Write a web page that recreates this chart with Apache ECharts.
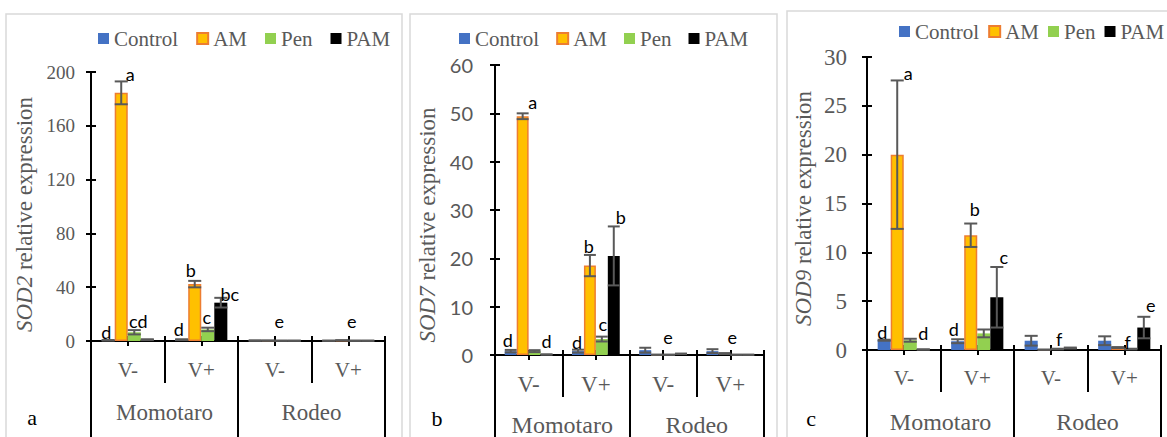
<!DOCTYPE html>
<html>
<head>
<meta charset="utf-8">
<script src="https://cdn.jsdelivr.net/npm/echarts@6/dist/echarts.min.js"></script>
<style>
  html, body { margin: 0; padding: 0; background: #fff; }
  #chart { width: 1167px; height: 437px; }
</style>
</head>
<body>
<div id="chart"></div>
<script>
// ---- data ----
const subgroups = ['V-', 'V+', 'V-', 'V+'];
const cultivars = ['Momotaro', 'Rodeo'];
const treatments = ['Control', 'AM', 'Pen', 'PAM'];

// SOD2 (panel a)
const sod2Ticks = [0, 40, 80, 120, 160, 200];
const sod2Control = [0.5, 1.0, 0.3, 0.2];
const sod2ControlErr = [0.2, 0.3, 0.2, 0.1];
const sod2AM = [184.5, 42.3, 0.3, 0.5];
const sod2AMErr = [8.5, 2.4, 0.1, 0.1];
const sod2Pen = [6.5, 8.6, 0.2, 0.2];
const sod2PenErr = [1.6, 1.3, 0.1, 0.1];
const sod2PAM = [1.0, 28.5, 0.2, 0.2];
const sod2PAMErr = [0.3, 3.6, 0.1, 0.1];
const sod2Letters = [['d', 'd', '', ''], ['a', 'b', '', ''], ['cd', 'c', 'e', 'e'], ['', 'bc', '', '']];

// SOD7 (panel b)
const sod7Ticks = [0, 10, 20, 30, 40, 50, 60];
const sod7Control = [0.8, 0.8, 1.0, 0.8];
const sod7ControlErr = [0.25, 0.3, 0.5, 0.4];
const sod7AM = [49.4, 18.5, 0.05, 0.3];
const sod7AMErr = [0.6, 2.2, 0.02, 0.1];
const sod7Pen = [0.8, 3.3, 0.05, 0.05];
const sod7PenErr = [0.2, 0.5, 0.02, 0.02];
const sod7PAM = [0.1, 20.5, 0.25, 0.05];
const sod7PAMErr = [0.02, 6.1, 0.05, 0.02];
const sod7Letters = [['d', 'd', '', ''], ['a', 'b', '', ''], ['', 'c', 'e', 'e'], ['d', 'b', '', '']];

// SOD9 (panel c)
const sod9Ticks = [0, 5, 10, 15, 20, 25, 30];
const sod9Control = [1.0, 0.9, 0.95, 0.95];
const sod9ControlErr = [0.05, 0.2, 0.5, 0.45];
const sod9AM = [20.0, 11.75, 0.03, 0.25];
const sod9AMErr = [7.6, 1.2, 0.01, 0.05];
const sod9Pen = [1.0, 1.7, 0.1, 0.1];
const sod9PenErr = [0.15, 0.4, 0.03, 0.03];
const sod9PAM = [0.05, 5.4, 0.2, 2.3];
const sod9PAMErr = [0.02, 3.1, 0.05, 1.1];
const sod9Letters = [['d', 'd', '', ''], ['a', 'b', '', ''], ['', '', 'f', 'f'], ['d', 'c', '', 'e']];

// ---- styling ----
const SERIF = "'Liberation Serif', serif";
const SANS = "Lato, 'Liberation Sans', sans-serif";
const GREY = '#595959';
const CAT_GAP = 0.29;
const colors = ['#4472C4', '#FFC000', '#92D050', '#000000'];

const panels = [
  {
    gene: 'SOD2', tag: 'a', ticks: sod2Ticks,
    values: [sod2Control, sod2AM, sod2Pen, sod2PAM],
    errors: [sod2ControlErr, sod2AMErr, sod2PenErr, sod2PAMErr],
    letters: sod2Letters,
    grid: { left: 91, top: 72, width: 294, height: 269 },
    yFont: SERIF, ySize: 19, yMargin: 16,
    subSize: 21, subMargin: 18, groupSize: 23, groupMargin: 60,
    nameGap: 55, nameShift: 16,
    legend: { left: 93, top: 23, gap: 18 },
    tagPos: [32, 417],
    frame: { x: 6, y: 14, w: 396, h: 440 },
    nudge: { '0-0': [-2, 2], '1-0': [9, 3], '2-0': [4, 1], '0-1': [-3, 0], '1-1': [-4, -1],
             '2-1': [-1, -1], '3-1': [9, 6], '2-2': [-2, -10], '2-3': [-3, -10] }
  },
  {
    gene: 'SOD7', tag: 'b', ticks: sod7Ticks,
    values: [sod7Control, sod7AM, sod7Pen, sod7PAM],
    errors: [sod7ControlErr, sod7AMErr, sod7PenErr, sod7PAMErr],
    letters: sod7Letters,
    grid: { left: 495, top: 65, width: 269, height: 291 },
    yFont: SANS, ySize: 20, yMargin: 22,
    subSize: 23, subMargin: 18, groupSize: 24, groupMargin: 58,
    nameGap: 56, nameShift: 30,
    legend: { left: 454, top: 23, gap: 17 },
    tagPos: [437, 418],
    frame: { x: 410, y: 14, w: 367, h: 440 },
    nudge: { '0-0': [-3, 0], '1-0': [10, -1], '3-0': [0, -3], '0-1': [-1, 2], '1-1': [-1, 1],
             '2-1': [1, -3], '3-1': [7, 1], '2-2': [-1, -8], '2-3': [-4, -8] }
  },
  {
    gene: 'SOD9', tag: 'c', ticks: sod9Ticks,
    values: [sod9Control, sod9AM, sod9Pen, sod9PAM],
    errors: [sod9ControlErr, sod9AMErr, sod9PenErr, sod9PAMErr],
    letters: sod9Letters,
    grid: { left: 867, top: 57, width: 294, height: 293 },
    yFont: SERIF, ySize: 23, yMargin: 20,
    subSize: 21, subMargin: 17, groupSize: 24, groupMargin: 60,
    nameGap: 52, nameShift: 10,
    legend: { left: 894, top: 16, gap: 9 },
    tagPos: [811, 418],
    frame: { x: 787, y: 11, w: 400, h: 440 },
    nudge: { '0-0': [-2, 2], '1-0': [11, 3], '3-0': [0, -6], '0-1': [-4, 0], '1-1': [4, -5],
             '3-1': [7, 0], '2-2': [2, 0], '2-3': [-3, 3], '3-3': [7, -2] }
  }
];

const axisLineStyle = { color: '#000', width: 2 };

const option = {
  animation: false,
  grid: [], xAxis: [], yAxis: [], series: [], legend: [], graphic: []
};

panels.forEach((p, i) => {
  const xi = 3 * i, yi = 2 * i;
  const max = p.ticks[p.ticks.length - 1];
  const interval = p.ticks[1] - p.ticks[0];

  option.grid.push(Object.assign({ containLabel: false }, p.grid));

  // first level: V- / V+ with short separators
  option.xAxis.push({
    type: 'category', gridIndex: i, position: 'bottom', data: subgroups,
    axisLine: { show: true, onZero: false, lineStyle: axisLineStyle },
    axisTick: { show: true, interval: 0, alignWithLabel: false, length: 42, lineStyle: axisLineStyle },
    axisLabel: { interval: 0, margin: p.subMargin, fontFamily: SERIF, fontSize: p.subSize, color: GREY },
    splitLine: { show: false }
  });
  // second level: cultivars with full-height separators
  option.xAxis.push({
    type: 'category', gridIndex: i, position: 'bottom', data: cultivars,
    axisLine: { show: false, onZero: false },
    axisTick: { show: true, interval: 0, alignWithLabel: false, length: 100, lineStyle: axisLineStyle },
    axisLabel: { interval: 0, margin: p.groupMargin, fontFamily: SERIF, fontSize: p.groupSize, color: GREY },
    splitLine: { show: false }
  });
  // short crossing ticks at every half category
  option.xAxis.push({
    type: 'category', gridIndex: i, position: 'bottom', offset: 5,
    data: ['', '', '', '', '', '', '', ''],
    axisLine: { show: false, onZero: false },
    axisTick: { show: true, inside: true, interval: 0, alignWithLabel: false, length: 10, lineStyle: axisLineStyle },
    axisLabel: { show: false },
    splitLine: { show: false }
  });

  option.yAxis.push({
    type: 'value', gridIndex: i, position: 'left', min: 0, max: max, interval: interval,
    axisLine: { show: true, lineStyle: axisLineStyle },
    axisTick: { show: true, length: 5, lineStyle: axisLineStyle },
    splitLine: { show: false },
    axisLabel: { margin: p.yMargin, fontFamily: p.yFont, fontSize: p.ySize, color: GREY },
    name: '{it|' + p.gene + '} relative expression',
    nameLocation: 'middle', nameRotate: 90, nameGap: p.nameGap,
    nameTextStyle: {
      fontFamily: SERIF, fontSize: 23, color: GREY, padding: [0, p.nameShift, 0, 0],
      rich: { it: { fontFamily: SERIF, fontSize: 23, color: GREY, fontStyle: 'italic' } }
    }
  });
  option.yAxis.push({
    type: 'value', gridIndex: i, position: 'left', min: 0, max: max, interval: interval,
    axisLine: { show: false },
    axisTick: { show: true, inside: true, length: 5, lineStyle: axisLineStyle },
    axisLabel: { show: false },
    splitLine: { show: false }
  });

  treatments.forEach((t, s) => {
    option.series.push({
      type: 'bar', name: t, xAxisIndex: xi, yAxisIndex: yi,
      data: p.values[s], barGap: '0%', barCategoryGap: (CAT_GAP * 100) + '%',
      silent: true, z: 2,
      itemStyle: s === 1
        ? { color: colors[s], borderColor: '#ED7D31', borderWidth: 1.5 }
        : { color: colors[s] }
    });
  });

  // error bars and significance letters
  const errData = [], errLetters = [];
  treatments.forEach((t, s) => {
    p.values[s].forEach((v, c) => {
      errData.push([c, v, p.errors[s][c], s]);
      errLetters.push(p.letters[s][c]);
    });
  });
  option.series.push({
    type: 'custom', xAxisIndex: xi, yAxisIndex: yi, silent: true, z: 5,
    data: errData, encode: { x: 0, y: 1 },
    renderItem(params, api) {
      const c = api.value(0), v = api.value(1), e = api.value(2), s = api.value(3);
      const band = api.size([1, 0])[0];
      const bw = band * (1 - CAT_GAP) / 4;
      const x = api.coord([c, 0])[0] - 2 * bw + (s + 0.5) * bw;
      const yTop = api.coord([c, v + e])[1];
      const yBot = api.coord([c, Math.max(v - e, 0)])[1];
      const st = { stroke: GREY, lineWidth: 2 };
      const children = [
        { type: 'line', shape: { x1: x, y1: yTop, x2: x, y2: yBot }, style: st },
        { type: 'line', shape: { x1: x - bw / 2, y1: yTop, x2: x + bw / 2, y2: yTop }, style: st },
        { type: 'line', shape: { x1: x - bw / 2, y1: yBot, x2: x + bw / 2, y2: yBot }, style: st }
      ];
      const letter = errLetters[params.dataIndex];
      if (letter) {
        const n = p.nudge[s + '-' + c] || [0, 0];
        children.push({
          type: 'text',
          style: {
            x: x + n[0], y: yTop - 1 + n[1], text: letter,
            align: 'center', verticalAlign: 'bottom',
            fontFamily: SANS, fontSize: 18, fill: '#000'
          }
        });
      }
      return { type: 'group', children };
    }
  });

  option.legend.push({
    left: p.legend.left, top: p.legend.top, width: 420, orient: 'horizontal',
    data: treatments, icon: 'rect', itemWidth: 11, itemHeight: 11, itemGap: p.legend.gap,
    selectedMode: false,
    textStyle: { fontFamily: SERIF, fontSize: 21, color: GREY }
  });

  option.graphic.push({
    type: 'rect', silent: true, z: -1,
    shape: { x: p.frame.x, y: p.frame.y, width: p.frame.w, height: p.frame.h },
    style: { fill: 'none', stroke: '#d9d9d9', lineWidth: 1.5 }
  });
  option.graphic.push({
    type: 'text', silent: true, x: p.tagPos[0], y: p.tagPos[1],
    style: { text: p.tag, align: 'center', verticalAlign: 'middle', fontFamily: SERIF, fontSize: 22, fill: '#000' }
  });
});

const chart = echarts.init(document.getElementById('chart'), null, { renderer: 'svg' });
chart.setOption(option);
</script>
</body>
</html>
